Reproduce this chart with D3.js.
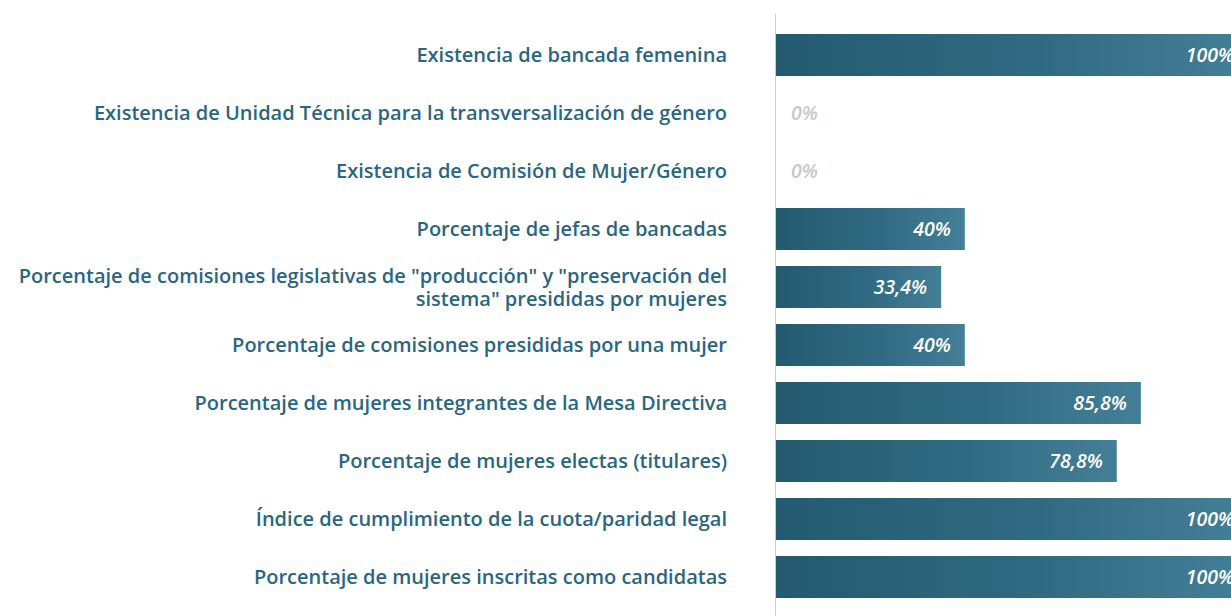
<!DOCTYPE html>
<html>
<head>
<meta charset="utf-8">
<script src="https://cdn.jsdelivr.net/npm/d3@7"></script>
<style>
  html, body { margin: 0; padding: 0; background: #fff; }
  svg { display: block; }
</style>
</head>
<body>
<svg id="chart" width="1231" height="616"></svg>
<script>
// ---- data ----
const categories = [
  "Existencia de bancada femenina",
  "Existencia de Unidad Técnica para la transversalización de género",
  "Existencia de Comisión de Mujer/Género",
  "Porcentaje de jefas de bancadas",
  "Porcentaje de comisiones legislativas de \"producción\" y \"preservación del|sistema\" presididas por mujeres",
  "Porcentaje de comisiones presididas por una mujer",
  "Porcentaje de mujeres integrantes de la Mesa Directiva",
  "Porcentaje de mujeres electas (titulares)",
  "Índice de cumplimiento de la cuota/paridad legal",
  "Porcentaje de mujeres inscritas como candidatas"
];
// bar lengths as drawn in the picture
const values = [100, 0, 0, 40, 35, 40, 77.3, 72.2, 100, 100];
// value labels as printed on the bars
const valueLabels = ["100%", "0%", "0%", "40%", "33,4%", "40%", "85,8%", "78,8%", "100%", "100%"];

// ---- layout ----
const svg = d3.select("#chart");
const axisX = 775.5;
const labelRight = 727;
const catFont = "'Open Sans', 'Noto Sans', sans-serif";
const catSize = 20;

const x = d3.scaleLinear().domain([0, 100]).range([776, 1248]);
const y = d3.scaleBand()
  .domain(d3.range(categories.length))
  .range([26, 606])
  .paddingInner(16 / 58)
  .paddingOuter(8 / 58);

// gradient
const defs = svg.append("defs");
const grad = defs.append("linearGradient")
  .attr("id", "barGrad")
  .attr("gradientUnits", "objectBoundingBox")
  .attr("x1", 0).attr("x2", 1).attr("y1", 0).attr("y2", 0);
grad.append("stop").attr("offset", "0%").attr("stop-color", "#235a6f");
grad.append("stop").attr("offset", "55%").attr("stop-color", "#306a82");
grad.append("stop").attr("offset", "100%").attr("stop-color", "#447f98");

// axis line
svg.append("line")
  .attr("x1", axisX).attr("x2", axisX)
  .attr("y1", 14).attr("y2", 616)
  .attr("stroke", "#cccccc").attr("stroke-width", 1);

// bars
svg.selectAll("rect.bar")
  .data(values)
  .join("rect")
  .attr("class", "bar")
  .attr("x", x(0))
  .attr("y", (d, i) => y(i))
  .attr("width", d => Math.max(0, x(d) - x(0)))
  .attr("height", y.bandwidth())
  .attr("fill", "url(#barGrad)");

// value labels
svg.selectAll("text.val")
  .data(values)
  .join("text")
  .attr("class", "val")
  .attr("x", d => d > 0 ? x(d) - 14 : x(d) + 15)
  .attr("y", (d, i) => y(i) + y.bandwidth() / 2)
  .attr("dy", "0.36em")
  .attr("text-anchor", d => d > 0 ? "end" : "start")
  .attr("font-family", catFont)
  .attr("font-style", "italic")
  .attr("font-weight", 600)
  .attr("font-size", 19.5)
  .attr("fill", d => d > 0 ? "#ffffff" : "#c8c8c8")
  .text((d, i) => valueLabels[i]);

// category labels (multi-line ones drawn as separate text lines)
const catLines = [];
categories.forEach((d, i) => {
  const lines = d.split("|");
  const lh = 23;
  lines.forEach((ln, k) => {
    catLines.push({ i, text: ln, off: (k - (lines.length - 1) / 2) * lh });
  });
});

svg.selectAll("text.cat")
  .data(catLines)
  .join("text")
  .attr("class", "cat")
  .attr("x", labelRight)
  .attr("y", d => y(d.i) + y.bandwidth() / 2 + d.off)
  .attr("dy", "0.36em")
  .attr("text-anchor", "end")
  .attr("font-family", catFont)
  .attr("font-weight", 600)
  .attr("font-size", catSize)
  .attr("fill", "#2a6680")
  .text(d => d.text);
</script>
</body>
</html>
